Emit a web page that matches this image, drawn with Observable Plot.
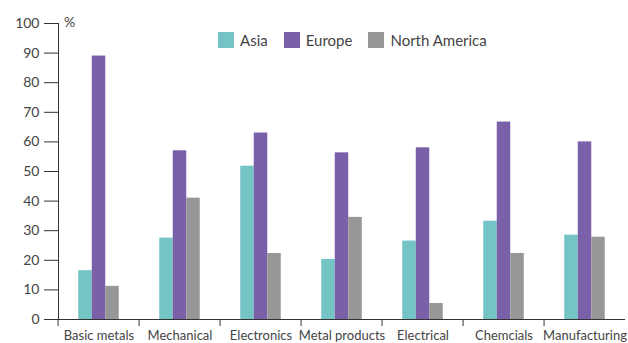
<!DOCTYPE html>
<html>
<head>
<meta charset="utf-8">
<script src="https://cdn.jsdelivr.net/npm/d3@7"></script>
<script src="https://cdn.jsdelivr.net/npm/@observablehq/plot@0.6"></script>
<style>
  body { margin: 0; background: #fff; }
  #chart { position: relative; width: 628px; height: 343px; overflow: hidden; font-family: Lato, sans-serif; color: #444; }
  #chart svg { position: absolute; left: 0; top: 0; }
  .unit { position: absolute; left: 64px; top: 13px; font-size: 14px; }
  .legend { position: absolute; left: 218px; top: 32px; display: flex; align-items: center; font-size: 15px; line-height: 16px; }
  .legend span.item { display: flex; align-items: center; margin-right: 16px; }
  .legend i { display: inline-block; width: 16px; height: 16px; margin-right: 6px; }
</style>
</head>
<body>
<div id="chart"></div>
<script>
// Sectors along the bottom axis
const sectors = ["Basic metals", "Mechanical", "Electronics", "Metal products", "Electrical", "Chemcials", "Manufacturing"];
// Regions, one bar each per sector
const regions = ["Asia", "Europe", "North America"];
// Share (%) per sector, in the order of `sectors`
const asia = [16.5, 27.5, 51.8, 20.3, 26.5, 33.2, 28.5];
const europe = [89, 57, 63, 56.3, 58, 66.7, 60];
const northAmerica = [11.2, 41, 22.3, 34.5, 5.4, 22.3, 27.8];
const regionColors = ["#74c4c6", "#7a60a8", "#979797"];
const yTicks = [0, 10, 20, 30, 40, 50, 60, 70, 80, 90, 100];

const seriesValues = [asia, europe, northAmerica];
const rows = sectors.flatMap((sector, i) =>
  regions.map((region, j) => ({sector, region, value: seriesValues[j][i]}))
);

const width = 628, height = 343, marginLeft = 55, marginRight = 0;
const bandwidth = (width - marginLeft - marginRight) / sectors.length;

const ink = "#333";

const chart = Plot.plot({
  width,
  height,
  marginTop: 23,
  marginBottom: 24,
  marginLeft,
  marginRight,
  style: {fontFamily: "Lato, sans-serif", fontSize: "13px", color: "#444", background: "transparent", overflow: "visible"},
  fx: {domain: sectors, paddingInner: 0, paddingOuter: 0, label: null},
  x: {domain: regions, paddingInner: 0, paddingOuter: 1.5, round: false, axis: null},
  y: {domain: [0, 100], label: null},
  color: {domain: regions, range: regionColors},
  marks: [
    Plot.barY(rows, {fx: "sector", x: "region", y: "value", fill: "region"}),
    Plot.ruleY([0], {stroke: ink}),
    Plot.frame({anchor: "left", facetAnchor: "left", stroke: ink}),
    Plot.axisY({ticks: yTicks, tickSize: 14, tickPadding: 5, label: null, stroke: ink, fontSize: 14, fill: "#444"}),
    Plot.axisFx({anchor: "bottom", tickSize: 7, text: null, dx: -bandwidth / 2, label: null, stroke: ink}),
    Plot.axisFx({anchor: "bottom", tickSize: 0, tickPadding: 11, label: null, fontSize: 13, fill: "#444"})
  ]
});

const root = document.getElementById("chart");
root.appendChild(chart);

const unit = document.createElement("div");
unit.className = "unit";
unit.textContent = "%";
root.appendChild(unit);

const legend = document.createElement("div");
legend.className = "legend";
regions.forEach((r, i) => {
  const item = document.createElement("span");
  item.className = "item";
  const sw = document.createElement("i");
  sw.style.background = regionColors[i];
  item.appendChild(sw);
  item.appendChild(document.createTextNode(r));
  legend.appendChild(item);
});
root.appendChild(legend);
</script>
</body>
</html>
